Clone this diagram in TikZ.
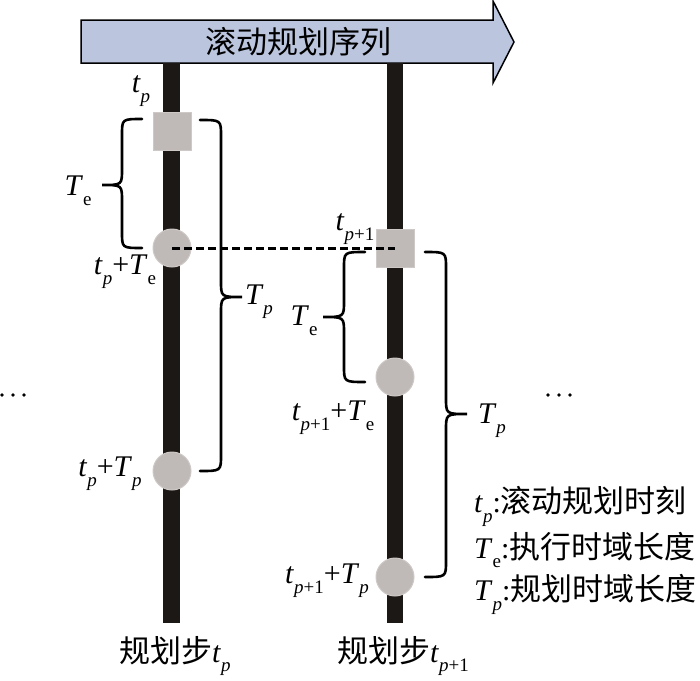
\documentclass[tikz,border=0pt]{standalone}
\usepackage{fontspec}
\setmainfont{Liberation Serif}
\newfontfamily\cjk{Noto Sans CJK SC}
\newcommand\vi[1]{\textit{#1}}
\newcommand\lo[1]{\raisebox{-0.72ex}{\fontsize{19}{19}\selectfont #1}}
\newcommand\zh[1]{{\cjk\fontsize{31}{31}\selectfont #1}}
\definecolor{barc}{RGB}{28,24,22}
\definecolor{markc}{RGB}{191,186,184}
\definecolor{markb}{RGB}{206,201,199}
\definecolor{arrc}{RGB}{187,197,222}
\newcommand\brc[5]{%
  \draw[bracestyle] (#1,#2) .. controls ({(#1+#4)/2},#2) .. ({(#1+#4)/2},{#2+16})
    -- ({(#1+#4)/2},{#5-16}) .. controls ({(#1+#4)/2},#5) .. (#4,#5)
    .. controls ({(#1+#4)/2},#5) .. ({(#1+#4)/2},{#5+16})
    -- ({(#1+#4)/2},{#3-16}) .. controls ({(#1+#4)/2},#3) .. (#1,#3);}
\tikzset{
  bracestyle/.style={line width=2.6pt, black, line cap=round},
  sqmark/.style={rectangle, fill=markc, draw=markb, line width=1pt, minimum size=38pt, inner sep=0pt},
  circmark/.style={circle, fill=markc, draw=markb, line width=1pt, minimum size=38pt, inner sep=0pt},
  dashln/.style={line width=3pt, black, dash pattern=on 8pt off 4pt},
  lbl/.style={inner sep=0pt, font=\fontsize{30}{30}\selectfont},
}
\begin{document}
\begin{tikzpicture}[x=1pt,y=-1pt]
\useasboundingbox (0,0) rectangle (700,680);
% top arrow
\draw[fill=arrc, line width=1.5pt, line join=miter]
  (81,20) -- (493,20) -- (493,1) -- (514,42) -- (493,83) -- (493,63) -- (81,63) -- cycle;
\node[inner sep=0pt] (title) at (298,42) {\zh{滚动规划序列}};
% bars
\fill[barc] (163,63) rectangle (180,623);
\fill[barc] (387,63) rectangle (403,623);
% markers
\node[sqmark] (s1) at (172,131) {};
\node[circmark] (c1) at (172,248) {};
\node[circmark] (c2) at (172,471) {};
\node[sqmark] (s2) at (395,248) {};
\node[circmark] (c3) at (395,377) {};
\node[circmark] (c4) at (395,577) {};
% dashed link
\draw[dashln] (c1.center) -- (s2.center);
% braces
\brc{142}{119}{248}{102}{185}
\brc{200}{120}{471}{242}{297}
\brc{365}{252}{382}{323}{317}
\brc{425}{252}{577}{467}{414}
% labels
\node[lbl] (ltp) at (141,91) {\vi{t}\lo{\vi{p}}};
\node[lbl] (ltpte) at (125,272) {\vi{t}\lo{\vi{p}}+\vi{T}\lo{e}};
\node[lbl] (ltp1) at (355,229) {\vi{t}\lo{\vi{p}+1}};
\node[lbl] (ltp1te) at (333,418) {\vi{t}\lo{\vi{p}+1}+\vi{T}\lo{e}};
\node[lbl] (ltptp) at (110,474) {\vi{t}\lo{\vi{p}}+\vi{T}\lo{\vi{p}}};
\node[lbl] (ltp1tp) at (327,581) {\vi{t}\lo{\vi{p}+1}+\vi{T}\lo{\vi{p}}};
\node[lbl] (lte1) at (78,191) {\vi{T}\lo{e}};
\node[lbl] (ltpb1) at (259,302) {\vi{T}\lo{\vi{p}}};
\node[lbl] (lte2) at (304,321) {\vi{T}\lo{e}};
\node[lbl] (ltpb2) at (492,421) {\vi{T}\lo{\vi{p}}};
% legend
\node[lbl, anchor=west] (lg1) at (474,506) {\vi{t}\lo{\vi{p}}:\zh{滚动规划时刻}};
\node[lbl, anchor=west] (lg2) at (474,550) {\vi{T}\lo{e}:\zh{执行时域长度}};
\node[lbl, anchor=west] (lg3) at (474,594) {\vi{T}\lo{\vi{p}}:\zh{规划时域长度}};
% step labels
\node[lbl, anchor=west] (st1) at (119,656) {\zh{规划步}\vi{t}\lo{\vi{p}}};
\node[lbl, anchor=west] (st2) at (337,656) {\zh{规划步}\vi{t}\lo{\vi{p}+1}};
% ellipses
\foreach \xx in {2,13,24,548,559,570} \fill (\xx,395) circle (1.8);
\end{tikzpicture}
\end{document}
